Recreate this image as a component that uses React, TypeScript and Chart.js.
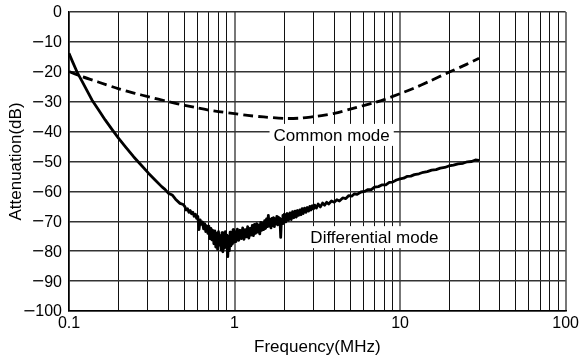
import React, { useEffect, useRef } from 'react';
import { Chart, registerables } from 'chart.js';

Chart.register(...registerables);

const FONT = '"Liberation Sans", Arial, Helvetica, sans-serif';
const MINUS_FONT = '"DejaVu Sans", sans-serif';

// Common mode attenuation [MHz, dB]
const commonMode: [number, number][] = [
  [0.1, -19.9], [0.12, -21.6], [0.15, -23.4], [0.2, -25.7], [0.25, -27.2], [0.3, -28.3],
  [0.4, -30.0], [0.5, -31.2], [0.6, -32.1], [0.7, -32.8], [0.8, -33.3], [1.0, -34.0],
  [1.2, -34.6], [1.5, -35.1], [2.0, -35.6], [2.5, -35.5], [3.0, -35.0], [3.5, -34.5],
  [4.0, -33.9], [5.0, -32.5], [6.0, -31.3], [7.0, -30.3], [8.0, -29.3], [10, -27.3],
  [12, -25.6], [15, -23.2], [20, -20], [25, -17.6], [30, -15.5],
];

// Differential mode attenuation [MHz, dB]
const differentialMode: [number, number][] = [
  [0.1, -13.8], [0.105, -16.6], [0.1117, -20], [0.12, -23.2], [0.1376, -29.4], [0.15, -32.5],
  [0.1654, -36.1], [0.18, -38.9], [0.199, -42.2], [0.22, -45.2], [0.2455, -48.4], [0.27, -50.9],
  [0.302, -53.9], [0.33, -56.1], [0.363, -58.4], [0.38, -59.3], [0.398, -60.6], [0.42, -61.2],
  [0.44, -62.6], [0.468, -64.0], [0.49, -64.4],
  [0.50, -65.0], [0.51, -66.2], [0.52, -65.8], [0.53, -67.0], [0.54, -66.4], [0.55, -67.5],
  [0.56, -67.0], [0.57, -68.3], [0.58, -67.6], [0.59, -69.0], [0.60, -68.4], [0.61, -72.8],
  [0.62, -69.5], [0.63, -71.0], [0.64, -70.2], [0.65, -72.5], [0.66, -70.8], [0.67, -73.4],
  [0.68, -71.5], [0.69, -74.0], [0.70, -71.6], [0.71, -75.8], [0.72, -72.4], [0.73, -76.2],
  [0.74, -73.0], [0.75, -77.5], [0.76, -73.2], [0.77, -78.6], [0.78, -74.0], [0.79, -79.4],
  [0.80, -73.5], [0.81, -78.0], [0.82, -74.8], [0.83, -79.6], [0.84, -73.8], [0.85, -80.2],
  [0.86, -75.0], [0.87, -79.0], [0.88, -73.5], [0.89, -78.4], [0.90, -74.6], [0.91, -81.8],
  [0.92, -75.2], [0.93, -79.8], [0.94, -73.6], [0.95, -78.2], [0.96, -74.0], [0.97, -77.6],
  [0.98, -72.8], [0.99, -77.0], [1.00, -73.4], [1.02, -76.8], [1.04, -72.6], [1.06, -76.4],
  [1.08, -73.0], [1.10, -75.8], [1.12, -72.2], [1.14, -76.0], [1.16, -72.8], [1.18, -75.2],
  [1.20, -71.8], [1.22, -75.6], [1.24, -72.4], [1.26, -74.6], [1.28, -71.4], [1.30, -74.8],
  [1.32, -71.0], [1.34, -74.0], [1.36, -70.8], [1.38, -73.6], [1.40, -71.2], [1.42, -74.2],
  [1.44, -70.4], [1.46, -73.0], [1.48, -70.6], [1.50, -72.8], [1.52, -69.8], [1.54, -72.4],
  [1.56, -69.2], [1.58, -71.8], [1.60, -68.0], [1.62, -71.6], [1.64, -69.4], [1.66, -72.2],
  [1.68, -69.0], [1.70, -71.4], [1.72, -68.8], [1.74, -71.8], [1.76, -69.2], [1.78, -70.8],
  [1.80, -68.4], [1.82, -71.2], [1.84, -68.6], [1.86, -70.6], [1.88, -69.0], [1.90, -75.4],
  [1.92, -69.4], [1.94, -70.8], [1.96, -68.0], [1.98, -70.4], [2.00, -67.6], [2.04, -70.2],
  [2.08, -67.4], [2.12, -69.6], [2.16, -67.2], [2.20, -69.4], [2.24, -66.8], [2.28, -68.8],
  [2.32, -66.6], [2.36, -68.6], [2.40, -66.4], [2.44, -68.0], [2.48, -66.2], [2.52, -67.8],
  [2.56, -65.8], [2.60, -67.4], [2.65, -65.6], [2.70, -67.0], [2.75, -65.4], [2.80, -66.6],
  [2.85, -65.0], [2.90, -66.2], [2.95, -64.8], [3.00, -65.8], [3.05, -64.6], [3.12, -65.6],
  [3.2, -64.2], [3.3, -65.2], [3.4, -63.9], [3.5, -64.6], [3.6, -63.6], [3.7, -64.2],
  [3.85, -63.2], [4.0, -63.6], [4.15, -62.8], [4.3, -63.2], [4.5, -62.2], [4.7, -62.4],
  [4.9, -61.4], [5.1, -61.6], [5.3, -60.8], [5.5, -61.0], [5.8, -60.2], [6.1, -60.0],
  [6.4, -59.4], [6.7, -59.4], [7.0, -58.6], [7.4, -58.4], [7.8, -57.8], [8.2, -57.8],
  [8.6, -57.0], [9.0, -56.9], [9.5, -56.2], [10, -55.8], [10.5, -55.6], [11, -55.0],
  [11.6, -54.9], [12.2, -54.4], [13, -54.1], [13.8, -53.6], [14.6, -53.4], [15.5, -52.9],
  [16.5, -52.7], [17.5, -52.2], [18.6, -52.0], [19.7, -51.5], [21, -51.2], [22.4, -50.8],
  [24, -50.6], [25.5, -50.1], [27, -50.0], [28.5, -49.5], [30, -49.6],
];

const seriesNames = ['Common mode', 'Differential mode'];

// Axes
const xGridValues = [
  0.1, 0.2, 0.3, 0.4, 0.5, 0.6, 0.7, 0.8, 0.9,
  1, 2, 3, 4, 5, 6, 7, 8, 9,
  10, 20, 30, 40, 50, 60, 70, 80, 90, 100,
];
const xLabelValues = [0.1, 1, 10, 100];
const xLabelTexts = ['0.1', '1', '10', '100'];
const yTickValues = [0, -10, -20, -30, -40, -50, -60, -70, -80, -90, -100];
const yTickLabels = ['0', '\u221210', '\u221220', '\u221230', '\u221240', '\u221250', '\u221260', '\u221270', '\u221280', '\u221290', '\u2212100'];

// Annotation anchors in data space (left edge, vertical centre)
const labelAnchors = [
  { x: 1.72, y: -41.1 },
  { x: 2.87, y: -75.3 },
];

const isDecade = (v: number) => Math.abs(Math.log10(v) - Math.round(Math.log10(v))) < 1e-6;

const labelPlugin = {
  id: 'curveLabels',
  afterDatasetsDraw(chart: any) {
    const { ctx, scales } = chart;
    ctx.save();
    ctx.font = `17px ${FONT}`;
    ctx.textBaseline = 'middle';
    ctx.textAlign = 'left';
    seriesNames.forEach((name, i) => {
      const a = labelAnchors[i];
      const px = scales.x.getPixelForValue(a.x);
      const py = scales.y.getPixelForValue(a.y);
      const w = ctx.measureText(name).width;
      ctx.fillStyle = '#fff';
      ctx.fillRect(px - 4, py - 11, w + 8, 22);
      ctx.fillStyle = '#000';
      ctx.fillText(name, px, py + 1);
    });
    ctx.restore();
  },
};

// y tick labels: digits in Liberation Sans, long minus sign in DejaVu Sans
const yLabelPlugin = {
  id: 'yLabels',
  afterDraw(chart: any) {
    const { ctx, scales } = chart;
    const right = scales.y.right - 7;
    ctx.save();
    ctx.fillStyle = '#000';
    ctx.textBaseline = 'middle';
    ctx.textAlign = 'right';
    yTickValues.forEach((v, i) => {
      const py = scales.y.getPixelForValue(v);
      const label = yTickLabels[i];
      const neg = label.startsWith('\u2212');
      const digits = neg ? label.slice(1) : label;
      ctx.font = `16px ${FONT}`;
      ctx.fillText(digits, right, py + 1);
      if (neg) {
        const w = ctx.measureText(digits).width;
        ctx.font = `16px ${MINUS_FONT}`;
        ctx.fillText('\u2212', right - w + 0.5, py + 1);
      }
    });
    ctx.restore();
  },
};

export default function App() {
  const canvasRef = useRef<HTMLCanvasElement | null>(null);

  useEffect(() => {
    document.body.style.margin = '0';
    const canvas = canvasRef.current;
    if (!canvas) return;
    const chart = new Chart(canvas, {
      type: 'line',
      data: {
        datasets: [
          {
            label: seriesNames[0],
            data: commonMode.map(([x, y]) => ({ x, y })),
            borderColor: '#000',
            borderWidth: 2.8,
            borderDash: [10, 5],
            pointRadius: 0,
            tension: 0.3,
            fill: false,
          },
          {
            label: seriesNames[1],
            data: differentialMode.map(([x, y]) => ({ x, y })),
            borderColor: '#000',
            borderWidth: 2.8,
            borderJoinStyle: 'round',
            pointRadius: 0,
            tension: 0,
            fill: false,
          },
        ],
      },
      options: {
        responsive: false,
        animation: false,
        devicePixelRatio: 1,
        layout: { padding: { top: 12, right: 15, left: 0, bottom: 0 } },
        plugins: { legend: { display: false }, tooltip: { enabled: false } },
        scales: {
          x: {
            type: 'logarithmic',
            min: 0.1,
            max: 100,
            afterBuildTicks: (s: any) => {
              s.ticks = xGridValues.map((v) => ({ value: v }));
            },
            afterFit: (s: any) => {
              s.height = 53;
            },
            ticks: {
              autoSkip: false,
              maxRotation: 0,
              padding: 3,
              color: '#000',
              font: { size: 16, family: FONT },
              callback: (v: any) => {
                const idx = xLabelValues.findIndex((lv) => Math.abs(lv - Number(v)) < 1e-9);
                return idx >= 0 ? xLabelTexts[idx] : '';
              },
            },
            grid: {
              drawTicks: false,
              color: (c: any) => (c.tick && isDecade(c.tick.value) ? '#777' : '#111'),
              lineWidth: (c: any) => (c.tick && isDecade(c.tick.value) ? 2 : 1),
            },
            border: { color: '#000', width: 1.5 },
            title: {
              display: true,
              text: 'Frequency(MHz)',
              color: '#000',
              font: { size: 17, family: FONT },
              padding: { top: 0, bottom: 6 },
            },
          },
          y: {
            min: -100,
            max: 0,
            afterBuildTicks: (s: any) => {
              s.ticks = yTickValues.map((v) => ({ value: v }));
            },
            afterFit: (s: any) => {
              s.width = 69;
            },
            ticks: {
              display: false,
            },
            grid: {
              drawTicks: false,
              color: '#333',
              lineWidth: 1.5,
            },
            border: { color: '#000', width: 1.5 },
            title: {
              display: true,
              text: 'Attenuation(dB)',
              color: '#000',
              font: { size: 17, family: FONT },
              padding: { top: 6, bottom: 0 },
            },
          },
        },
      } as any,
      plugins: [labelPlugin, yLabelPlugin],
    });
    return () => chart.destroy();
  }, []);

  return (
    <div style={{ width: 582, height: 364, background: '#fff' }}>
      <canvas ref={canvasRef} width={582} height={364} style={{ display: 'block' }} />
    </div>
  );
}
